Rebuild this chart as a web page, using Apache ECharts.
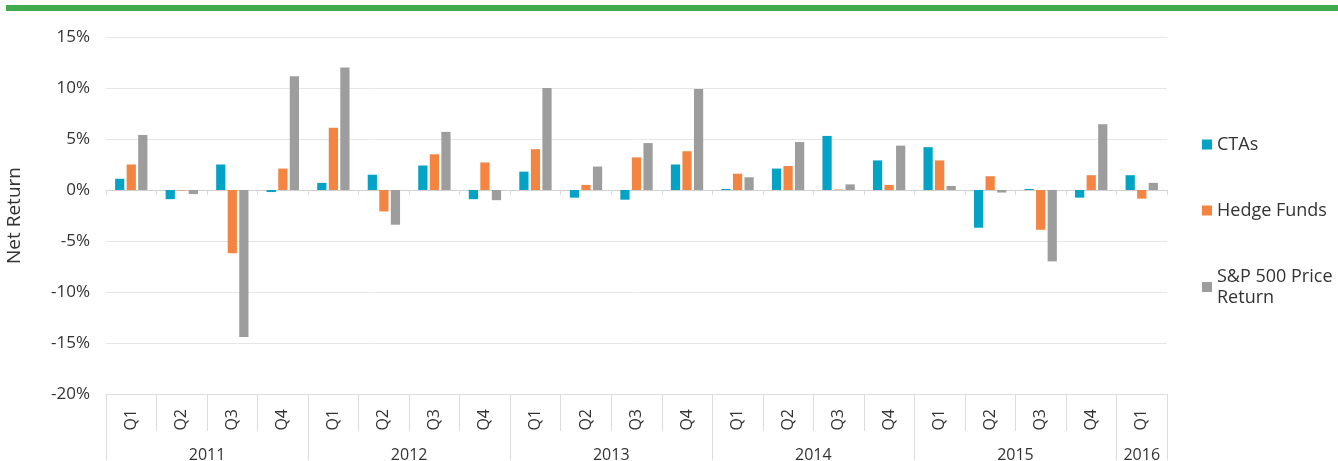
<!DOCTYPE html>
<html>
<head>
<meta charset="utf-8">
<script src="https://cdn.jsdelivr.net/npm/echarts@6/dist/echarts.min.js"></script>
<style>
  html, body { margin: 0; padding: 0; background: #fff; }
  #chart { width: 1338px; height: 461px; }
</style>
</head>
<body>
<div id="chart"></div>
<script>
// quarterly net returns, in percent
const quarters = ['Q1','Q2','Q3','Q4','Q1','Q2','Q3','Q4','Q1','Q2','Q3','Q4','Q1','Q2','Q3','Q4','Q1','Q2','Q3','Q4','Q1'];
const years = ['2011', '2012', '2013', '2014', '2015', '2016'];
const quartersPerYear = [4, 4, 4, 4, 4, 1];

const ctas = [1.1, -0.9, 2.5, -0.2, 0.7, 1.5, 2.4, -0.9, 1.8, -0.75, -0.95, 2.5, 0.1, 2.1, 5.3, 2.9, 4.2, -3.7, 0.1, -0.75, 1.45];
const hedgeFunds = [2.5, -0.05, -6.2, 2.1, 6.1, -2.1, 3.5, 2.7, 4.0, 0.5, 3.2, 3.8, 1.6, 2.35, 0.05, 0.5, 2.9, 1.35, -3.9, 1.45, -0.85];
const sp500 = [5.4, -0.4, -14.4, 11.15, 12.0, -3.4, 5.7, -1.0, 10.0, 2.3, 4.6, 9.9, 1.25, 4.7, 0.55, 4.35, 0.4, -0.25, -7.0, 6.45, 0.7];

const yMin = -20, yMax = 15, yStep = 5;

// where each year starts (category index) and where its label sits
const yearStarts = [];
const yearCenters = [];
let acc = 0;
quartersPerYear.forEach(n => {
  yearStarts.push(acc);
  yearCenters.push(acc + n / 2);
  acc += n;
});
const totalQuarters = acc;

const font = "'Open Sans', sans-serif";
const textColor = '#333';
const lineColor = '#dcdcdc';

const chart = echarts.init(document.getElementById('chart'));

const option = {
  backgroundColor: '#fff',
  textStyle: { fontFamily: font },
  graphic: [{
    type: 'rect',
    left: 6,
    top: 5,
    shape: { width: 1332, height: 6 },
    style: { fill: '#3fab4a' }
  }],
  grid: { left: 106, right: 171, top: 37, bottom: 67, outerBoundsMode: 'none' },
  legend: {
    orient: 'vertical',
    left: 1197,
    top: 129,
    icon: 'rect',
    itemWidth: 10,
    itemHeight: 10,
    itemGap: 45,
    textStyle: { fontFamily: font, fontSize: 18, color: textColor, lineHeight: 21 },
    data: ['CTAs', 'Hedge Funds', 'S&P 500 Price\nReturn']
  },
  xAxis: [
    {
      // quarter row
      type: 'category',
      data: quarters,
      position: 'bottom',
      axisLine: { onZero: false, lineStyle: { color: lineColor } },
      axisTick: { show: true, length: 37, interval: 0, lineStyle: { color: lineColor } },
      axisLabel: { interval: 0, rotate: 90, margin: 15, fontSize: 16, color: textColor, fontFamily: font },
      splitLine: { show: false }
    },
    {
      // year separators
      type: 'category',
      data: quarters,
      position: 'bottom',
      axisLine: { show: false, onZero: false },
      axisTick: {
        show: true,
        length: 66,
        interval: i => yearStarts.indexOf(i) !== -1,
        lineStyle: { color: lineColor }
      },
      axisLabel: { show: false }
    },
    {
      // year labels
      type: 'value',
      min: 0,
      max: totalQuarters,
      interval: 0.5,
      position: 'bottom',
      axisLine: { show: false, onZero: false },
      axisTick: { show: false },
      splitLine: { show: false },
      axisLabel: {
        margin: 53,
        fontSize: 16,
        color: textColor,
        fontFamily: font,
        showMinLabel: true,
        showMaxLabel: true,
        formatter: v => {
          const k = yearCenters.indexOf(v);
          return k === -1 ? '' : years[k];
        }
      }
    },
    {
      // zero line with small ticks
      type: 'category',
      data: quarters,
      axisLine: { show: true, onZero: true, lineStyle: { color: '#d0d0d0' } },
      axisTick: { show: true, inside: true, length: 5, interval: 0, lineStyle: { color: '#d9d9d9' } },
      axisLabel: { show: false }
    }
  ],
  yAxis: {
    type: 'value',
    min: yMin,
    max: yMax,
    interval: yStep,
    name: 'Net Return',
    nameLocation: 'middle',
    nameRotate: 90,
    nameGap: 82,
    nameTextStyle: { fontSize: 19, color: textColor, fontFamily: font },
    axisLine: { show: false },
    axisTick: { show: false },
    axisLabel: { formatter: v => v + '%', fontSize: 17, color: textColor, fontFamily: font, margin: 16 },
    splitLine: { lineStyle: { color: '#e6e6e6' } }
  },
  series: [
    { name: 'CTAs', type: 'bar', data: ctas, itemStyle: { color: '#02a3c4' }, barGap: '25%', barCategoryGap: '36%' },
    { name: 'Hedge Funds', type: 'bar', data: hedgeFunds, itemStyle: { color: '#f38441' } },
    { name: 'S&P 500 Price\nReturn', type: 'bar', data: sp500, itemStyle: { color: '#9d9d9e' } }
  ]
};

chart.setOption(option);
</script>
</body>
</html>
